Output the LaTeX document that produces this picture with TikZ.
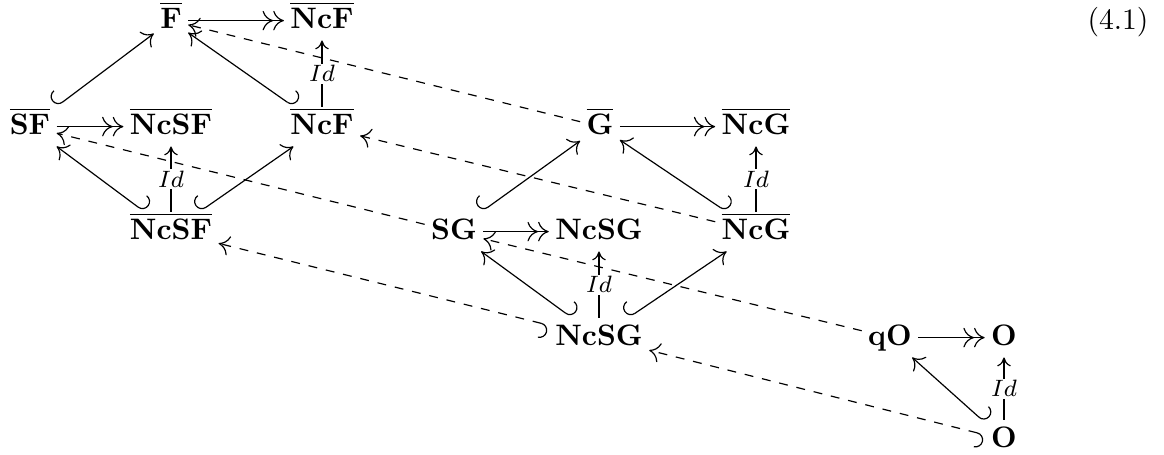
\documentclass[tikz,border=0pt]{standalone}
\usetikzlibrary{arrows.meta}
\begin{document}
\begin{tikzpicture}[x=0.3378pt,y=-0.3378pt,
  obj/.style={anchor=base, text height=7pt, text depth=2pt, inner sep=2pt},
  cm/.tip={Computer Modern Rightarrow[length=3.6pt,width=6.6pt,line width=0.4pt]},
  >={cm},
  diag/.style={line width=0.4pt},
  hl/.style={diag,{Hooks[right,length=2.6pt,width=10pt]}->},
  hr/.style={diag,{Hooks[left,length=2.6pt,width=10pt]}->},
  epi/.style={line width=0.6pt,-{cm[]cm[]}},
  idarr/.style={line width=0.6pt,-{Computer Modern Rightarrow[length=3pt,width=4.6pt,line width=0.4pt]}},
  lbl/.style={fill=white, inner sep=0.6pt, font=\fontsize{8.5}{10}\selectfont},
  dsh/.style={diag,dashed}]
\useasboundingbox (0,0) rectangle (1164,454);
% objects
\node[obj] (F) at (171,28) {$\overline{\mathbf{F}}$};
\node[obj] (NcF1) at (322,28) {$\overline{\mathbf{NcF}}$};
\node[obj] (SF) at (30,134) {$\overline{\mathbf{SF}}$};
\node[obj] (NcSF1) at (171,134) {$\overline{\mathbf{NcSF}}$};
\node[obj] (NcF2) at (322,134) {$\overline{\mathbf{NcF}}$};
\node[obj] (G) at (600,134) {$\overline{\mathbf{G}}$};
\node[obj] (NcG1) at (756,134) {$\overline{\mathbf{NcG}}$};
\node[obj] (NcSF2) at (171,239) {$\overline{\mathbf{NcSF}}$};
\node[obj] (SG) at (454,239) {$\mathbf{SG}$};
\node[obj] (NcSG1) at (599,239) {$\mathbf{NcSG}$};
\node[obj] (NcG2) at (756,239) {$\overline{\mathbf{NcG}}$};
\node[obj] (NcSG2) at (599,345) {$\mathbf{NcSG}$};
\node[obj] (qO) at (890,345) {$\mathbf{qO}$};
\node[obj] (O1) at (1004,345) {$\mathbf{O}$};
\node[obj] (O2) at (1004,447) {$\mathbf{O}$};
\node[anchor=base] (eq) at (1118,29) {(4.1)};
% epimorphisms
\draw[epi] (F) -- (NcF1);
\draw[epi] (SF) -- (NcSF1);
\draw[epi] (G) -- (NcG1);
\draw[epi] (SG) -- (NcSG1);
\draw[epi] (qO) -- (O1);
% identities
\draw[idarr] (NcF2) -- node[lbl]{$Id$} (NcF1);
\draw[idarr] (NcSF2) -- node[lbl]{$Id$} (NcSF1);
\draw[idarr] (NcG2) -- node[lbl]{$Id$} (NcG1);
\draw[idarr] (NcSG2) -- node[lbl]{$Id$} (NcSG1);
\draw[idarr] (O2) -- node[lbl]{$Id$} (O1);
% inclusions
\draw[hl] (SF) -- (F);
\draw[hr] (NcF2) -- (F);
\draw[hr] (NcSF2) -- (SF);
\draw[hl] (NcSF2) -- (NcF2);
\draw[hl] (SG) -- (G);
\draw[hr] (NcG2) -- (G);
\draw[hr] (NcSG2) -- (SG);
\draw[hl] (NcSG2) -- (NcG2);
\draw[hr] (O2) -- (qO);
% dashed
\draw[dsh,->] (G) -- (F);
\draw[dsh,->] (NcG2) -- (NcF2);
\draw[dsh,->] (SG) -- (SF);
\draw[dsh,->] (qO) -- (SG);
\draw[dsh,hl] (NcSG2) -- (NcSF2);
\draw[dsh,hl] (O2) -- (NcSG2);
\end{tikzpicture}
\end{document}
